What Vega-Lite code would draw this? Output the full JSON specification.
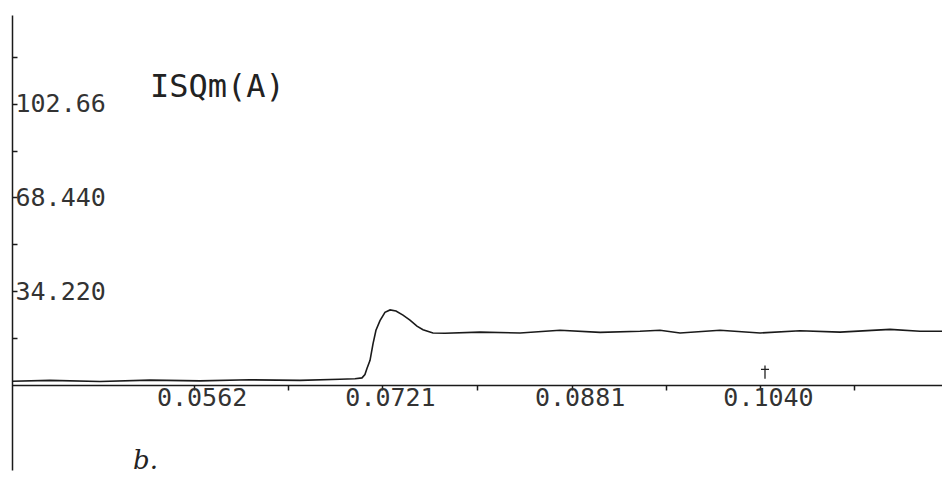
{
  "$schema": "https://vega.github.io/schema/vega-lite/v6.json",
  "autosize": "none",
  "width": 930,
  "height": 455,
  "padding": {"left": 12, "top": 15, "right": 0, "bottom": 18},
  "background": "white",
  "config": {"view": {"stroke": null}},
  "title": {
    "text": "ISQm(A)",
    "anchor": "start",
    "frame": "group",
    "orient": "top",
    "offset": 0,
    "dx": 138,
    "dy": 104,
    "baseline": "middle",
    "font": "DejaVu Sans Mono",
    "fontSize": 32,
    "fontWeight": "normal",
    "color": "#222222"
  },
  "datasets": {
    "trace": [
      {"t": 0.04088, "i": 1.4},
      {"t": 0.04408, "i": 1.7},
      {"t": 0.0483, "i": 1.3},
      {"t": 0.05252, "i": 1.8},
      {"t": 0.05674, "i": 1.5},
      {"t": 0.06096, "i": 1.9},
      {"t": 0.06518, "i": 1.7},
      {"t": 0.06855, "i": 2.1},
      {"t": 0.06982, "i": 2.3},
      {"t": 0.07041, "i": 2.6},
      {"t": 0.07066, "i": 3.8},
      {"t": 0.07083, "i": 6.0},
      {"t": 0.07109, "i": 9.0},
      {"t": 0.07134, "i": 15.0},
      {"t": 0.07159, "i": 20.0},
      {"t": 0.07193, "i": 23.5},
      {"t": 0.07235, "i": 26.5},
      {"t": 0.07278, "i": 27.4},
      {"t": 0.07328, "i": 27.0},
      {"t": 0.07387, "i": 25.5},
      {"t": 0.07446, "i": 23.7},
      {"t": 0.07505, "i": 21.5},
      {"t": 0.07556, "i": 20.2},
      {"t": 0.0764, "i": 19.0},
      {"t": 0.07742, "i": 18.9},
      {"t": 0.08037, "i": 19.3},
      {"t": 0.08375, "i": 19.0},
      {"t": 0.08712, "i": 20.0},
      {"t": 0.0905, "i": 19.2},
      {"t": 0.09387, "i": 19.6},
      {"t": 0.09556, "i": 20.0},
      {"t": 0.09725, "i": 19.0},
      {"t": 0.10062, "i": 20.0},
      {"t": 0.104, "i": 19.0},
      {"t": 0.10738, "i": 19.8},
      {"t": 0.11075, "i": 19.3},
      {"t": 0.11497, "i": 20.3},
      {"t": 0.1175, "i": 19.6},
      {"t": 0.11936, "i": 19.6}
    ],
    "cursor": [
      {"t": 0.10442, "i": 4.7}
    ]
  },
  "layer": [
    {
      "data": {"name": "trace"},
      "mark": {"type": "line", "color": "#1a1a1a", "strokeWidth": 1.6, "clip": true},
      "encoding": {
        "x": {
          "field": "t",
          "type": "quantitative",
          "scale": {"domain": [0.040876, 0.119357], "nice": false, "zero": false},
          "axis": {
            "offset": -85,
            "values": [0.0562, 0.06415, 0.0721, 0.0801, 0.0881, 0.09605, 0.104, 0.11195],
            "labelExpr": "indexof([0.0562, 0.0721, 0.0881, 0.104], datum.value) >= 0 ? format(datum.value, '.4f') : ''",
            "grid": false,
            "domainColor": "#1a1a1a",
            "domainWidth": 1.5,
            "tickColor": "#1a1a1a",
            "tickWidth": 1.5,
            "tickSize": 5,
            "labelPadding": -5,
            "labelOffset": 8,
            "labelFont": "DejaVu Sans Mono",
            "labelFontSize": 25,
            "labelColor": "#333333",
            "labelFlush": false,
            "labelOverlap": false,
            "title": "b.",
            "titleX": 133,
            "titleY": 75,
            "titleAlign": "center",
            "titleBaseline": "middle",
            "titleFont": "DejaVu Serif",
            "titleFontStyle": "italic",
            "titleFontWeight": "normal",
            "titleFontSize": 26,
            "titleColor": "#222222"
          }
        },
        "y": {
          "field": "i",
          "type": "quantitative",
          "scale": {"domain": [-31, 135], "nice": false, "zero": false},
          "axis": {
            "values": [17.11, 34.22, 51.33, 68.44, 85.55, 102.66, 119.77],
            "labelExpr": "datum.value == 34.22 ? '34.220' : datum.value == 68.44 ? '68.440' : datum.value == 102.66 ? '102.66' : ''",
            "grid": false,
            "domainColor": "#1a1a1a",
            "domainWidth": 1.5,
            "tickColor": "#1a1a1a",
            "tickWidth": 1.5,
            "tickSize": -5,
            "labelPadding": 2,
            "labelAlign": "left",
            "labelBaseline": "middle",
            "labelFont": "DejaVu Sans Mono",
            "labelFontSize": 25,
            "labelColor": "#333333",
            "labelFlush": false,
            "labelOverlap": false,
            "title": null
          }
        }
      }
    },
    {
      "data": {"name": "cursor"},
      "mark": {"type": "point", "shape": "M-0.6,-0.4H0.6M0,-1V1", "filled": false, "stroke": "#222222", "strokeWidth": 1.3, "size": 180, "opacity": 1},
      "encoding": {
        "x": {"field": "t", "type": "quantitative"},
        "y": {"field": "i", "type": "quantitative"}
      }
    }
  ]
}
